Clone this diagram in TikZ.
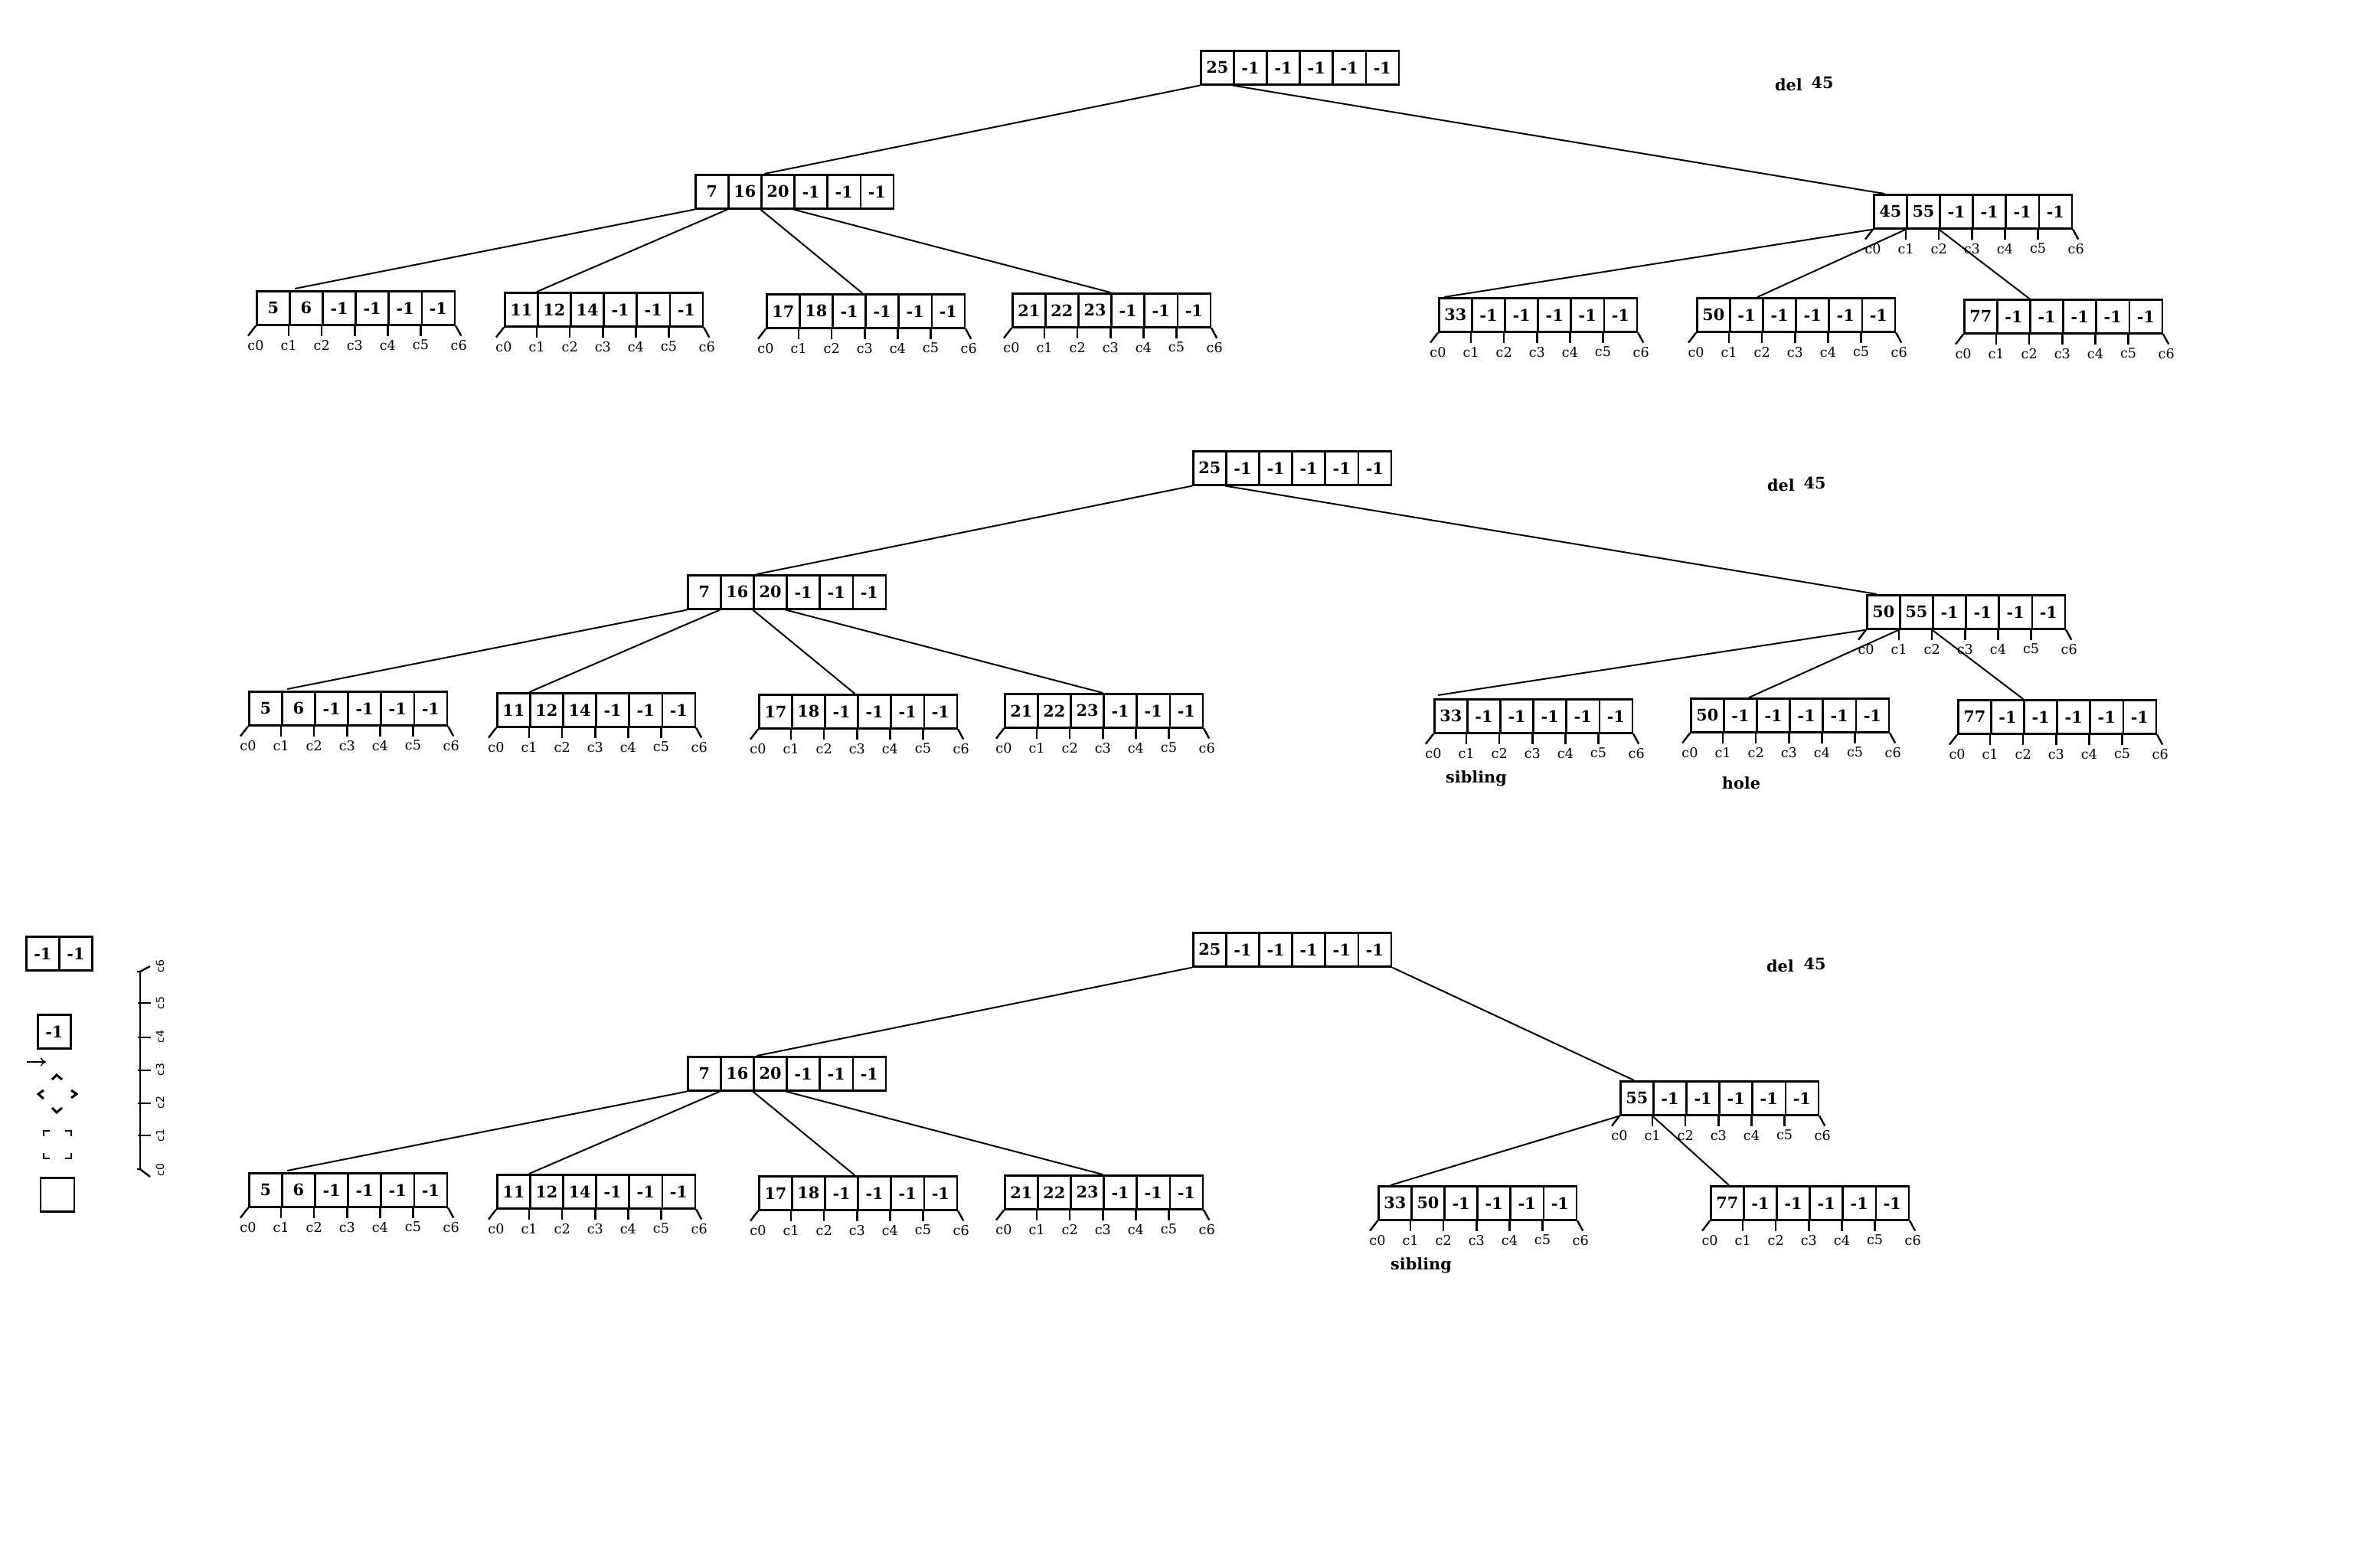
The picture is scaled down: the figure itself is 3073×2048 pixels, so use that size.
\documentclass[tikz,border=0pt]{standalone}
\usepackage{fontspec}
\setmainfont{DejaVu Serif}
\newfontfamily\legsans{DejaVu Sans}
\usetikzlibrary{calc,arrows.meta}
\tikzset{
  cell/.style={draw, line width=1.3pt, minimum width=21.55pt, minimum height=22pt, inner sep=0pt, font=\fontsize{10.4}{12}\selectfont\bfseries},
  conn/.style={line width=1pt},
  tickln/.style={line width=1.2pt},
  clab/.style={inner sep=0pt, font=\fontsize{8.8}{10}\selectfont},
  txt/.style={inner sep=0pt, font=\fontsize{10.4}{12}\selectfont\bfseries},
  slab/.style={inner sep=0pt, rotate=90, font=\legsans\fontsize{7}{8}\selectfont},
  legln/.style={line width=1.3pt},
}
\newcommand{\bbox}[4]{%
  \foreach \v [count=\i] in {#4} {
    \node[cell, anchor=north west] (#1-\i) at ({#2+(\i-1)*43.1},#3) {\v};
  }}
\newcommand{\bticks}[1]{%
  \draw[tickln] (#1-1.south west) -- ++(-10,13);
  \foreach \i in {2,...,6} { \draw[tickln] (#1-\i.south west) -- ++(0,13); }
  \draw[tickln] (#1-6.south east) -- ++(7,13);
  \foreach \j [count=\i] in {0,...,5} { \node[clab] (#1-l\j) at ($(#1-\i.south west)+(0,25)$) {c\j}; }
  \node[clab] (#1-l6) at ($(#1-6.south east)+(4,25)$) {c6};
}
\begin{document}
\begin{tikzpicture}[x=0.5pt,y=-0.5pt]
\fill[white] (0,0) rectangle (3073,2048);
\useasboundingbox (0,0) rectangle (3073,2048);

% ---------------- Tree 1 ----------------
\bbox{r1}{1567}{65}{25,-1,-1,-1,-1,-1}
\bbox{a1}{907}{227}{7,16,20,-1,-1,-1}
\bbox{b1}{2446}{253}{45,55,-1,-1,-1,-1}
\bbox{l1a}{334}{379}{5,6,-1,-1,-1,-1}
\bbox{l1b}{658}{381}{11,12,14,-1,-1,-1}
\bbox{l1c}{1000}{383}{17,18,-1,-1,-1,-1}
\bbox{l1d}{1321}{382}{21,22,23,-1,-1,-1}
\bbox{l1e}{1878}{388}{33,-1,-1,-1,-1,-1}
\bbox{l1f}{2215}{388}{50,-1,-1,-1,-1,-1}
\bbox{l1g}{2564}{390}{77,-1,-1,-1,-1,-1}
\bticks{b1}
\bticks{l1a}\bticks{l1b}\bticks{l1c}\bticks{l1d}\bticks{l1e}\bticks{l1f}\bticks{l1g}
\draw[conn] (r1-1.south west) -- ($(a1-3.north west)+(5,0)$);
\draw[conn] (r1-2.south west) -- ($(b1-1.north west)+(15,0)$);
\draw[conn] (a1-1.south west) -- ($(l1a-2.north west)+(8,-2)$);
\draw[conn] (a1-2.south west) -- (l1b-2.north west);
\draw[conn] (a1-3.south west) -- ($(l1c-4.north west)+(-3,0)$);
\draw[conn] (a1-4.south west) -- (l1d-4.north west);
\draw[conn] (b1-1.south west) -- ($(l1e-1.north west)+(8,0)$);
\draw[conn] (b1-2.south west) -- ($(l1f-3.north west)+(-6,0)$);
\draw[conn] (b1-3.south west) -- (l1g-3.north west);
\node[txt] (del1) at (2336,111) {del};
\node[txt] (num1) at (2380,108) {45};

% ---------------- Tree 2 ----------------
\bbox{r2}{1557}{588}{25,-1,-1,-1,-1,-1}
\bbox{a2}{897}{750}{7,16,20,-1,-1,-1}
\bbox{b2}{2437}{776}{50,55,-1,-1,-1,-1}
\bbox{l2a}{324}{902}{5,6,-1,-1,-1,-1}
\bbox{l2b}{648}{904}{11,12,14,-1,-1,-1}
\bbox{l2c}{990}{906}{17,18,-1,-1,-1,-1}
\bbox{l2d}{1311}{905}{21,22,23,-1,-1,-1}
\bbox{l2e}{1872}{912}{33,-1,-1,-1,-1,-1}
\bbox{l2f}{2207}{911}{50,-1,-1,-1,-1,-1}
\bbox{l2g}{2556}{913}{77,-1,-1,-1,-1,-1}
\bticks{b2}
\bticks{l2a}\bticks{l2b}\bticks{l2c}\bticks{l2d}\bticks{l2e}\bticks{l2f}\bticks{l2g}
\draw[conn] (r2-1.south west) -- ($(a2-3.north west)+(5,0)$);
\draw[conn] (r2-2.south west) -- ($(b2-1.north west)+(14,0)$);
\draw[conn] (a2-1.south west) -- ($(l2a-2.north west)+(8,-2)$);
\draw[conn] (a2-2.south west) -- (l2b-2.north west);
\draw[conn] (a2-3.south west) -- ($(l2c-4.north west)+(-3,0)$);
\draw[conn] (a2-4.south west) -- (l2d-4.north west);
\draw[conn] (b2-1.south west) -- ($(l2e-1.north west)+(6,-4)$);
\draw[conn] (b2-2.south west) -- ($(l2f-3.north west)+(-9,0)$);
\draw[conn] (b2-3.south west) -- (l2g-3.north west);
\node[txt] (del2) at (2326,634) {del};
\node[txt] (num2) at (2370,631) {45};
\node[txt] (sib2) at (1928,1017) {sibling};
\node[txt] (hole2) at (2274,1023) {hole};

% ---------------- Tree 3 ----------------
\bbox{r3}{1557}{1217}{25,-1,-1,-1,-1,-1}
\bbox{a3}{897}{1379}{7,16,20,-1,-1,-1}
\bbox{b3}{2115}{1411}{55,-1,-1,-1,-1,-1}
\bbox{l3a}{324}{1531}{5,6,-1,-1,-1,-1}
\bbox{l3b}{648}{1533}{11,12,14,-1,-1,-1}
\bbox{l3c}{990}{1535}{17,18,-1,-1,-1,-1}
\bbox{l3d}{1311}{1534}{21,22,23,-1,-1,-1}
\bbox{l3e}{1799}{1548}{33,50,-1,-1,-1,-1}
\bbox{l3f}{2233}{1548}{77,-1,-1,-1,-1,-1}
\bticks{b3}
\bticks{l3a}\bticks{l3b}\bticks{l3c}\bticks{l3d}\bticks{l3e}\bticks{l3f}
\draw[conn] (r3-1.south west) -- ($(a3-3.north west)+(5,0)$);
\draw[conn] (r3-6.south east) -- ($(b3-1.north west)+(19,0)$);
\draw[conn] (a3-1.south west) -- ($(l3a-2.north west)+(8,-2)$);
\draw[conn] (a3-2.south west) -- (l3b-2.north west);
\draw[conn] (a3-3.south west) -- ($(l3c-4.north west)+(-3,0)$);
\draw[conn] (a3-4.south west) -- (l3d-4.north west);
\draw[conn] (b3-1.south west) -- ($(l3e-1.north west)+(17,0)$);
\draw[conn] (b3-2.south west) -- ($(l3f-1.north west)+(25,0)$);
\node[txt] (del3) at (2325,1262) {del};
\node[txt] (num3) at (2370,1259) {45};
\node[txt] (sib3) at (1856,1653) {sibling};

% ---------------- Legend ----------------
\bbox{lg1}{33}{1222}{-1,-1}
\bbox{lg2}{48}{1324}{-1}
\coordinate (arA) at (35,1387);
\coordinate (arB) at (60,1387);
\draw[line width=0.75pt, -{To[length=3.5pt,width=5.5pt]}] (arA) -- (arB);
\draw[line width=1.5pt] (68,1410) -- (74,1404) -- (81,1410);
\draw[line width=1.5pt] (57,1424) -- (50,1429) -- (57,1435);
\draw[line width=1.5pt] (93,1424) -- (100,1429) -- (93,1434);
\draw[line width=1.5pt] (68,1447) -- (74,1453) -- (81,1447);
\draw[legln] (65,1477) -- (57,1477) -- (57,1484);
\draw[legln] (85,1477) -- (93,1477) -- (93,1484);
\draw[legln] (57,1506) -- (57,1513) -- (65,1513);
\draw[legln] (93,1506) -- (93,1513) -- (85,1513);
\node[draw, line width=1.3pt, minimum size=22pt, inner sep=0pt] (lgsq) at (75,1560.5) {};
% scale
\draw[tickln] (183,1527) -- (183,1269);
\foreach \yy in {1483,1441,1398,1355,1310} { \draw[tickln] (180,\yy) -- (197,\yy); }
\draw[tickln] (179,1269) -- (183,1269) -- (196,1262);
\draw[tickln] (179,1527) -- (183,1527) -- (196,1537);
\node[slab] (sl6) at (209,1262) {c6};
\node[slab] (sl5) at (209,1310) {c5};
\node[slab] (sl4) at (209,1354) {c4};
\node[slab] (sl3) at (209,1397) {c3};
\node[slab] (sl2) at (209,1440) {c2};
\node[slab] (sl1) at (209,1483) {c1};
\node[slab] (sl0) at (209,1528) {c0};
\end{tikzpicture}
\end{document}
